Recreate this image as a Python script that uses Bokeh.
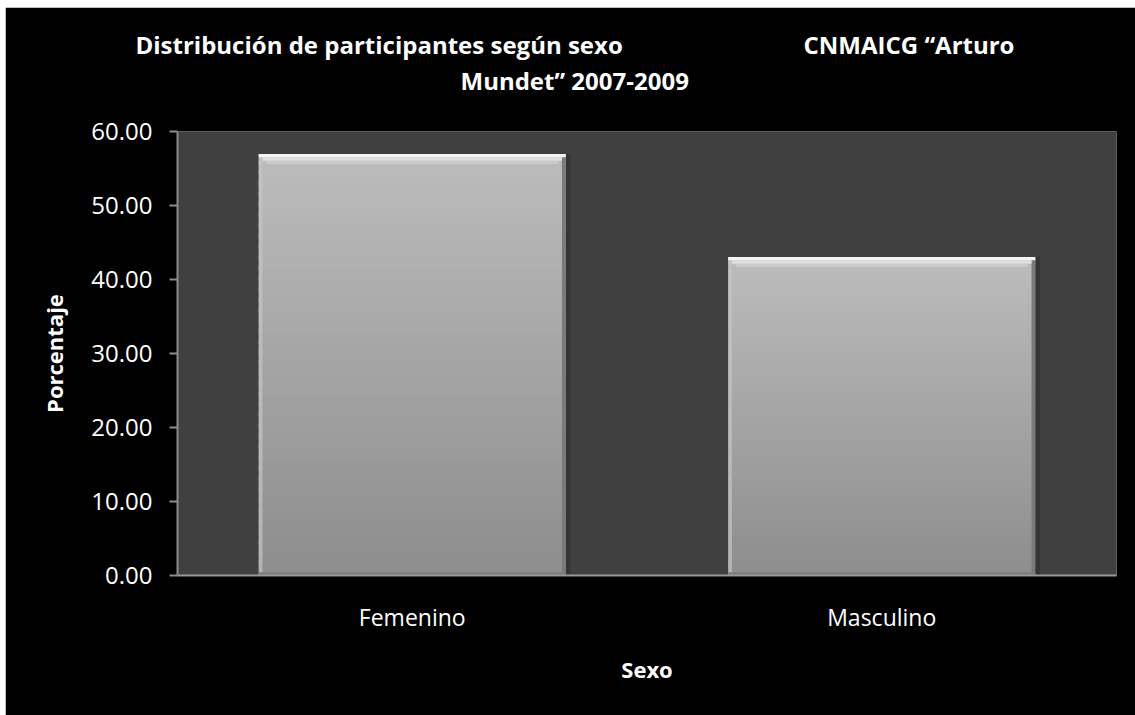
from bokeh.plotting import figure
from bokeh.models import Title, Range1d, FactorRange, NumeralTickFormatter, FixedTicker
from bokeh.transform import dodge
from bokeh.embed import file_html
from bokeh.resources import INLINE

# ---- data ----
categories = ["Femenino", "Masculino"]
percentages = [56.96, 43.04]
y_ticks = [0, 10, 20, 30, 40, 50, 60]
title_left = "Distribución de participantes según sexo"
title_right = "CNMAICG \u201cArturo"
title_line2 = "Mundet\u201d 2007-2009"
x_label = "Sexo"
y_label = "Porcentaje"

FONT = "Open Sans"
BAR_W = 0.654

p = figure(
    x_range=FactorRange(*categories, range_padding=0),
    y_range=Range1d(0, 60),
    width=1130, height=708,
    min_border_left=172, min_border_top=124, min_border_right=19, min_border_bottom=140,
    output_backend="svg", toolbar_location=None,
    background_fill_color="#404040", border_fill_color="black",
    outline_line_color=None,
)
p.margin = (7, 0, 0, 5)
p.xgrid.grid_line_color = None
p.ygrid.grid_line_color = None

# ---- bars: vertical gradient built from slices of each bar ----
N = 40
xs, bots, tops, cols = [], [], [], []
for c, v in zip(categories, percentages):
    for k in range(N):
        xs.append(c)
        bots.append(v * k / N)
        tops.append(min(v, v * (k + 1.4) / N))
        t = (k + 0.5) / N
        g = int(round(0x8d + (0xbc - 0x8d) * t))
        cols.append(f"#{g:02x}{g:02x}{g:02x}")
p.vbar(x=xs, bottom=bots, top=tops, width=BAR_W, fill_color=cols, line_color=None)

# bevel details (derived from the bar values)
shadow_src = dict(x=categories, top=percentages)
p.vbar(x=dodge("x", BAR_W / 2 + 0.005, range=p.x_range), top="top", bottom=0,
       width=0.01, source=shadow_src, fill_color="#2e2e2e", fill_alpha=0.6, line_color=None)
p.vbar(x=dodge("x", BAR_W / 2 - 0.004, range=p.x_range), top="top", bottom=0,
       width=0.008, source=shadow_src, fill_color="#7a7a7a", line_color=None)
p.vbar(x=dodge("x", -BAR_W / 2 + 0.004, range=p.x_range), top="top", bottom=0,
       width=0.008, source=shadow_src, fill_color="#c4c4c4", fill_alpha=0.7, line_color=None)
bevel_steps = [(0.0, 0.45, 0.0, "#f4f4f4"), (0.45, 0.9, 0.008, "#e0e0e0"),
               (0.9, 1.35, 0.016, "#cacaca")]
for d0, d1, shrink, col in bevel_steps:
    p.vbar(x=categories, top=[v - d0 for v in percentages], bottom=[v - d1 for v in percentages],
           width=BAR_W - 2 * shrink, fill_color=col, line_color=None)
p.vbar(x=categories, top=0.45, bottom=0, width=BAR_W, fill_color="#7c7c7c", line_color=None)

# ---- axes ----
ax_col = "#8c8c8c"
p.yaxis.ticker = FixedTicker(ticks=y_ticks)
p.yaxis.formatter = NumeralTickFormatter(format="0.00")
p.yaxis.axis_line_color = ax_col
p.yaxis.axis_line_width = 2
p.yaxis.major_tick_line_color = ax_col
p.yaxis.major_tick_line_width = 2
p.yaxis.major_tick_in = 0
p.yaxis.major_tick_out = 8
p.yaxis.minor_tick_line_color = None
p.yaxis.major_label_standoff = 17
p.yaxis.major_label_text_font = FONT
p.yaxis.major_label_text_font_size = "24px"
p.yaxis.major_label_text_color = "white"
p.yaxis.axis_label = y_label
p.yaxis.axis_label_text_font = FONT
p.yaxis.axis_label_text_font_style = "bold"
p.yaxis.axis_label_text_font_size = "22px"
p.yaxis.axis_label_text_color = "white"
p.yaxis.axis_label_standoff = 19

p.xaxis.axis_line_color = "#9a9a9a"
p.xaxis.axis_line_width = 2
p.xaxis.major_tick_line_color = None
p.xaxis.minor_tick_line_color = None
p.xaxis.major_label_standoff = 19
p.xaxis.major_label_text_font = FONT
p.xaxis.major_label_text_font_size = "23px"
p.xaxis.major_label_text_color = "white"
p.xaxis.axis_label = x_label
p.xaxis.axis_label_text_font = FONT
p.xaxis.axis_label_text_font_style = "bold"
p.xaxis.axis_label_text_font_size = "22px"
p.xaxis.axis_label_text_color = "white"
p.xaxis.axis_label_standoff = 18

# ---- title (two lines, as in the original) ----
# invisible spacer between the plot area and the title block
p.add_layout(Title(text="\u00a0", text_font_size="1px", standoff=32,
                   text_color="black"), "above")
tstyle = dict(text_color="white", text_font=FONT, text_font_style="bold",
              text_font_size="24px", align="left")
p.add_layout(Title(text=title_line2, offset=283, standoff=0, **tstyle), "above")
p.add_layout(Title(text=title_left + "\u00a0" * 29 + title_right, offset=-42,
                   standoff=2, **tstyle), "above")

open("out.html", "w").write(file_html(p, INLINE))
